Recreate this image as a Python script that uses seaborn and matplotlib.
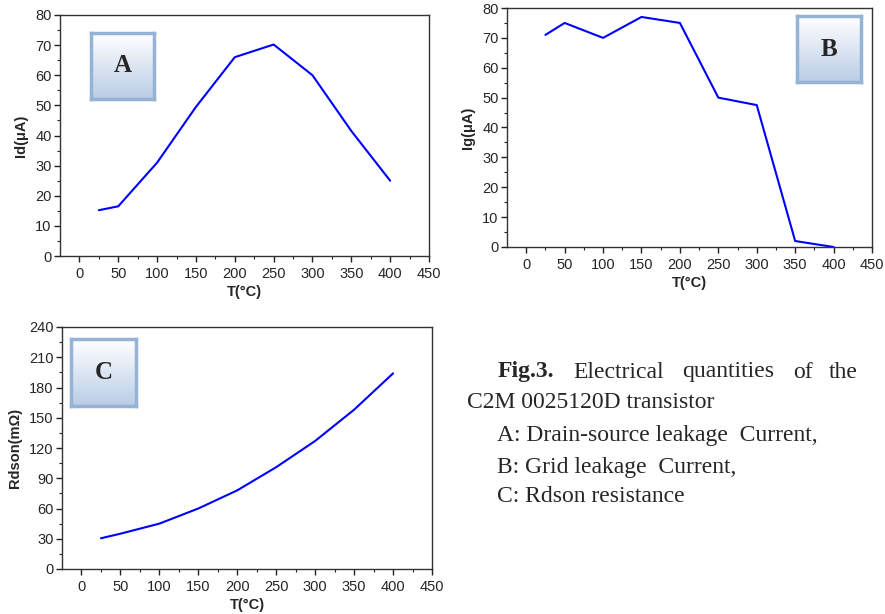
import numpy as np
import matplotlib
matplotlib.use('Agg')
import matplotlib.pyplot as plt
import pandas as pd
import seaborn as sns

temps = [25, 50, 100, 150, 200, 250, 300, 350, 400]
id_vals = [15.2, 16.5, 31, 49.5, 66, 70.2, 60, 41.5, 25]
ig_vals = [71, 75, 70, 77, 75, 50, 47.5, 2, 0]
rdson_vals = [30.5, 35, 45, 60, 78, 101, 127, 158, 194]

sns.set_style('ticks')
plt.rcParams['font.family'] = ['Liberation Sans', 'DejaVu Sans']

W, H = 885, 614
fig = plt.figure(figsize=(W / 100, H / 100), dpi=100)


def px_axes(l, t, r, b):
    return fig.add_axes([l / W, 1 - b / H, (r - l) / W, (b - t) / H])


def panel(ax, y, ylabel, ymax, ystep, yminor):
    df = pd.DataFrame({'T': temps, 'v': y})
    sns.lineplot(data=df, x='T', y='v', ax=ax, color='#0000ff', lw=1.5)
    ax.set_xlim(-25, 450)
    ax.set_ylim(0, ymax)
    ax.set_xticks(np.arange(0, 451, 50))
    ax.set_xticks(np.arange(25, 451, 50), minor=True)
    ax.set_yticks(np.arange(0, ymax + 1, ystep))
    ax.set_yticks(np.arange(yminor, ymax, ystep), minor=True)
    ax.tick_params(which='major', direction='out', length=4, width=1,
                   labelsize=10.5, pad=2, color='#222222')
    ax.tick_params(which='minor', direction='out', length=2.5, width=0.8,
                   color='#222222')
    ax.tick_params(axis='x', pad=4)
    for s in ax.spines.values():
        s.set_visible(True)
        s.set_color('#333333')
        s.set_linewidth(1)
    ax.set_xlabel('T(°C)', fontsize=10.5, fontweight='bold', labelpad=3)
    ax.set_ylabel(ylabel, fontsize=10.5, fontweight='bold', labelpad=5)


def label_box(l, t, r, b, letter):
    bx = px_axes(l, t, r, b)
    grad = np.linspace(0, 1, 100).reshape(-1, 1)
    cmap = matplotlib.colors.LinearSegmentedColormap.from_list(
        'g', ['#ffffff', '#b9cde5'])
    bx.imshow(grad, aspect='auto', cmap=cmap, extent=[0, 1, 0, 1], origin='upper')
    bx.set_xticks([])
    bx.set_yticks([])
    for s in bx.spines.values():
        s.set_color('#95b3d7')
        s.set_linewidth(2.5)
    bx.text(0.5, 0.5, letter, ha='center', va='center', fontsize=18,
            fontweight='bold', family='Liberation Serif', transform=bx.transAxes)


axA = px_axes(60, 15, 429, 256)
panel(axA, id_vals, 'Id(μA)', 80, 10, 5)
axB = px_axes(507, 8, 872, 247)
panel(axB, ig_vals, 'Ig(μA)', 80, 10, 5)
axC = px_axes(62, 327, 432, 569)
panel(axC, rdson_vals, 'Rdson(mΩ)', 240, 30, 15)

label_box(91, 33, 154, 99, 'A')
label_box(797, 16, 861, 82, 'B')
label_box(71, 339, 136, 406, 'C')

cap = dict(family='Liberation Serif', fontsize=17, va='center', ha='left')
fig.text(498 / W, 1 - 372 / H, 'Fig.3.', fontweight='bold', **cap)
fig.text(573 / W, 1 - 372 / H, 'Electrical', **cap)
fig.text(682 / W, 1 - 372 / H, 'quantities', **cap)
fig.text(793 / W, 1 - 372 / H, 'of', **cap)
fig.text(858 / W, 1 - 372 / H, 'the', **{**cap, 'ha': 'right'})
fig.text(467 / W, 1 - 403 / H, 'C2M 0025120D transistor', **cap)
fig.text(497 / W, 1 - 436 / H, 'A: Drain-source leakage  Current,', **cap)
fig.text(497 / W, 1 - 467 / H, 'B: Grid leakage  Current,', **cap)
fig.text(497 / W, 1 - 497 / H, 'C: Rdson resistance', **cap)

fig.savefig('out.png', dpi=100)
